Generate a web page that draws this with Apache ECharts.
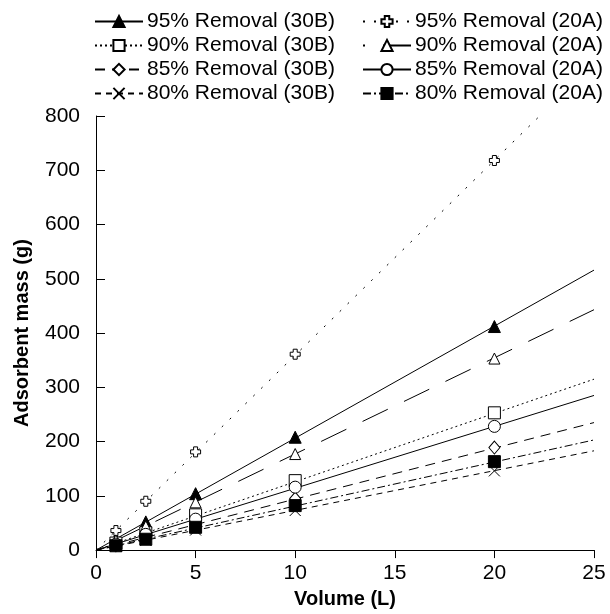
<!DOCTYPE html>
<html>
<head>
<meta charset="utf-8">
<script src="https://cdn.jsdelivr.net/npm/echarts@6/dist/echarts.min.js"></script>
<style>
  html, body { margin: 0; padding: 0; background: #fff; }
  #chart { width: 610px; height: 614px; }
</style>
</head>
<body>
<div id="chart"></div>
<script>
// Volumes treated (L)
const volumes = [1, 2.5, 5, 10, 20];

// Adsorbent mass (g) needed for each removal target
const removal95_30B = [21, 52, 104, 208, 412];
const removal90_30B = [13, 32, 65, 128, 253];
const removal85_30B = [9, 24, 47, 95, 189];
const removal80_30B = [7, 18, 37, 73, 146];
const removal95_20A = [36, 90, 181, 361, 718];
const removal90_20A = [18, 44, 88, 177, 353];
const removal85_20A = [11, 29, 57, 116, 228];
const removal80_20A = [8, 20, 42, 82, 163];

// Trend lines: through the origin, value at the end of the volume axis (25 L)
const fitVolumes = [0, 25];
const fitAtEnd = {
  '95% Removal (30B)': 516,
  '90% Removal (30B)': 315,
  '85% Removal (30B)': 235,
  '80% Removal (30B)': 183,
  '95% Removal (20A)': 898,
  '90% Removal (20A)': 443,
  '85% Removal (20A)': 285,
  '80% Removal (20A)': 203
};

// Axis ticks
const xTicks = [0, 5, 10, 15, 20, 25];
const yTicks = [0, 100, 200, 300, 400, 500, 600, 700, 800];

const plusPath = 'path://M3,0H7V3H10V7H7V10H3V7H0V3H3Z';
const crossPath = 'path://M0,0L10,10M10,0L0,10';

const groups = [
  { name: '95% Removal (30B)', values: removal95_30B, symbol: 'triangle', fill: '#000', size: 12, dash: 'solid', offset: 0 },
  { name: '90% Removal (30B)', values: removal90_30B, symbol: 'rect', fill: '#fff', size: 12, dash: [2, 3], offset: 0 },
  { name: '85% Removal (30B)', values: removal85_30B, symbol: 'diamond', fill: '#fff', size: [11, 13], dash: [10, 7], offset: 0 },
  { name: '80% Removal (30B)', values: removal80_30B, symbol: crossPath, fill: 'none', size: 11, dash: [6, 5], offset: 0 },
  { name: '95% Removal (20A)', values: removal95_20A, symbol: plusPath, fill: '#fff', size: 10, dash: [2, 9], offset: 0 },
  { name: '90% Removal (20A)', values: removal90_20A, symbol: 'triangle', fill: '#fff', size: 11, dash: [28, 18], offset: 26 },
  { name: '85% Removal (20A)', values: removal85_20A, symbol: 'circle', fill: '#fff', size: 12, dash: 'solid', offset: 0 },
  { name: '80% Removal (20A)', values: removal80_20A, symbol: 'rect', fill: '#000', size: 12, dash: [8, 3, 2, 3], offset: 0 }
];

const series = [];
groups.forEach(g => {
  series.push({
    name: g.name,
    type: 'line',
    data: fitVolumes.map((v, i) => [v, i === 0 ? 0 : fitAtEnd[g.name]]),
    symbol: g.symbol,
    showSymbol: false,
    clip: true,
    silent: true,
    lineStyle: { color: '#000', width: 1, type: g.dash, dashOffset: g.offset },
    itemStyle: { color: g.fill, borderColor: '#000', borderWidth: 1 },
    z: 2
  });
});
groups.forEach(g => {
  series.push({
    name: g.name,
    type: 'scatter',
    data: volumes.map((v, i) => [v, g.values[i]]),
    symbol: g.symbol,
    symbolSize: g.size,
    itemStyle: { color: g.fill, borderColor: '#000', borderWidth: 1, opacity: 1 },
    z: 3
  });
});

const font = 'Liberation Sans, Arial, sans-serif';
const legendCommon = {
  orient: 'vertical',
  top: 11,
  itemWidth: 48,
  itemHeight: 14,
  itemGap: 3,
  padding: 0,
  selectedMode: false,
  textStyle: { fontFamily: font, fontSize: 21, color: '#000', padding: [0, 0, 0, -1] }
};

const chart = echarts.init(document.getElementById('chart'), null, { renderer: 'canvas' });
chart.setOption({
  animation: false,
  backgroundColor: '#fff',
  textStyle: { fontFamily: font },
  legend: [
    Object.assign({}, legendCommon, { left: 94, data: groups.slice(0, 4).map(g => g.name) }),
    Object.assign({}, legendCommon, { left: 362, data: groups.slice(4).map(g => g.name) })
  ],
  grid: { left: 96, right: 16, top: 116, bottom: 63, containLabel: false },
  xAxis: {
    type: 'value',
    min: xTicks[0],
    max: xTicks[xTicks.length - 1],
    interval: 5,
    name: 'Volume (L)',
    nameLocation: 'middle',
    nameGap: 36,
    nameTextStyle: { fontFamily: font, fontSize: 20, fontWeight: 'bold', color: '#000' },
    axisLine: { lineStyle: { color: '#000', width: 1 } },
    axisTick: { inside: false, length: 8, lineStyle: { color: '#000' } },
    axisLabel: { margin: 13, fontFamily: font, fontSize: 21, color: '#000' },
    splitLine: { show: false }
  },
  yAxis: {
    type: 'value',
    min: yTicks[0],
    max: yTicks[yTicks.length - 1],
    interval: 100,
    name: 'Adsorbent mass (g)',
    nameLocation: 'middle',
    nameGap: 64,
    nameTextStyle: { fontFamily: font, fontSize: 20, fontWeight: 'bold', color: '#000' },
    axisLine: { show: true, lineStyle: { color: '#000', width: 1 } },
    axisTick: { show: true, inside: true, length: 9, lineStyle: { color: '#000' } },
    axisLabel: { margin: 16, fontFamily: font, fontSize: 21, color: '#000' },
    splitLine: { show: false }
  },
  series: series
});
</script>
</body>
</html>
